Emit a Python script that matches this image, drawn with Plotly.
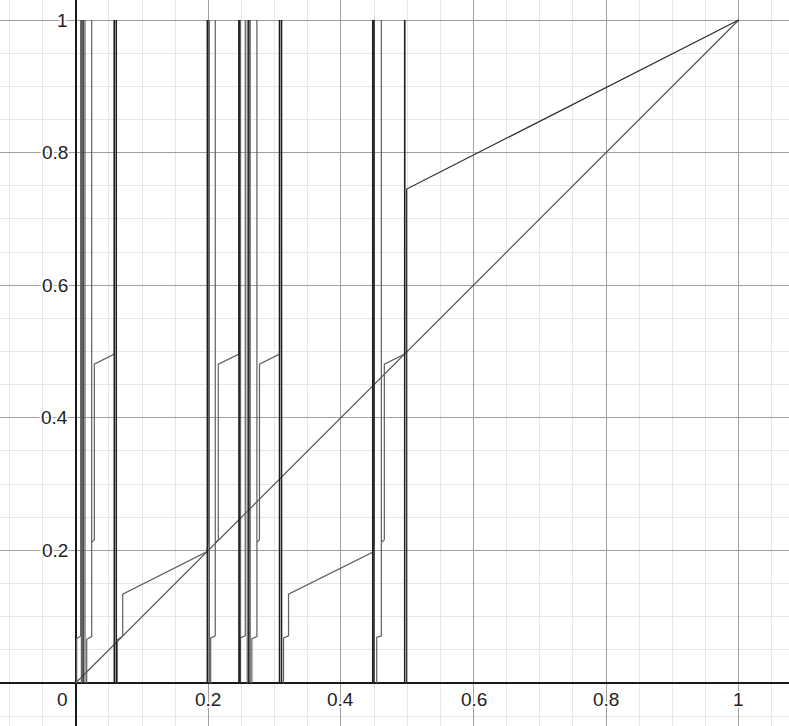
import plotly.graph_objects as go

# ---- data ----
# full-height (0 -> 1) steep lines, dark
dark_full_x = [0.0111, 0.0582, 0.0612, 0.1985, 0.2462, 0.2477, 0.2611, 0.3074, 0.3105, 0.448, 0.4499, 0.4962]
# full-height steep lines, grey
gray_full_x = [0.0086, 0.014, 0.2587, 0.2632, 0.2016]

# grey polylines (each a list of x and a list of y)
gray_lines_x = [
    [0.0015, 0.0015, 0.0075, 0.0075],
    [0.0166, 0.0166, 0.0241, 0.0241],
    [0.0241, 0.0281, 0.0281, 0.0582, 0.0582],
    [0.0627, 0.0627, 0.0709, 0.0709, 0.1976, 0.2, 0.2],
    [0.2036, 0.2036, 0.2105, 0.2105],
    [0.2105, 0.2151, 0.2151, 0.2462, 0.2462],
    [0.2479, 0.2479, 0.2557, 0.2557],
    [0.2657, 0.2657, 0.2733, 0.2733],
    [0.2733, 0.2772, 0.2772, 0.3074, 0.3074],
    [0.3135, 0.3135, 0.321, 0.321, 0.4476, 0.4499, 0.4499],
    [0.454, 0.454, 0.461, 0.461],
    [0.461, 0.4655, 0.4655, 0.4962, 0.4962],
]
gray_lines_y = [
    [0, 0.067, 0.071, 1],
    [0, 0.066, 0.070, 1],
    [0.212, 0.216, 0.481, 0.496, 1],
    [0, 0.065, 0.071, 0.134, 0.198, 0.213, 1],
    [0, 0.068, 0.071, 1],
    [0.212, 0.216, 0.481, 0.496, 1],
    [0, 0.068, 0.071, 1],
    [0, 0.067, 0.070, 1],
    [0.212, 0.216, 0.481, 0.496, 1],
    [0, 0.068, 0.071, 0.134, 0.197, 0.213, 1],
    [0, 0.069, 0.071, 1],
    [0.212, 0.216, 0.481, 0.496, 1],
]

# upper branch
top_x = [0.4992, 0.4992, 1.0]
top_y = [0.0, 0.745, 1.0]

# identity line
diag_x = [0.0, 1.0]
diag_y = [0.0, 1.0]

tick_vals = [0.2, 0.4, 0.6, 0.8, 1.0]
tick_text = ["0.2", "0.4", "0.6", "0.8", "1"]


def join(xs_list, ys_list):
    X, Y = [], []
    for xs, ys in zip(xs_list, ys_list):
        X += list(xs) + [None]
        Y += list(ys) + [None]
    return X, Y


fig = go.Figure()

dx, dy = join([[v, v] for v in dark_full_x], [[0, 1] for _ in dark_full_x])
gx1, gy1 = join([[v, v] for v in gray_full_x], [[0, 1] for _ in gray_full_x])
gx2, gy2 = join(gray_lines_x, gray_lines_y)

fig.add_trace(go.Scatter(x=diag_x, y=diag_y, mode="lines",
                         line=dict(color="#555555", width=1.2), hoverinfo="skip"))
fig.add_trace(go.Scatter(x=gx1 + gx2, y=gy1 + gy2, mode="lines",
                         line=dict(color="#606060", width=1.2), hoverinfo="skip"))
fig.add_trace(go.Scatter(x=dx, y=dy, mode="lines",
                         line=dict(color="#1e1e1e", width=1.5), hoverinfo="skip"))
fig.add_trace(go.Scatter(x=top_x, y=top_y, mode="lines",
                         line=dict(color="#2a2a2a", width=1.2), hoverinfo="skip"))

px_per_unit = 663.0
x0_px, y0_px = 75.7, 683.0
W, H = 789, 726
xr = [-x0_px / px_per_unit, (W - x0_px) / px_per_unit]
yr = [-(H - y0_px) / px_per_unit, y0_px / px_per_unit]

axis_common = dict(
    showgrid=True, gridcolor="#a0a0a0", gridwidth=1, dtick=0.2, tick0=0,
    minor=dict(dtick=0.05, showgrid=True, gridcolor="#e6e6e6", gridwidth=1),
    zeroline=True, zerolinecolor="#1a1a1a", zerolinewidth=2,
    showticklabels=False, ticks="", showline=False, fixedrange=True,
)

fig.update_layout(
    width=W, height=H, margin=dict(l=0, r=0, t=0, b=0),
    paper_bgcolor="white", plot_bgcolor="white", showlegend=False,
    xaxis=dict(range=xr, **axis_common),
    yaxis=dict(range=yr, **axis_common),
)

halo = "2px 0px 1px white, -2px 0px 1px white, 0px 2px 1px white, 0px -2px 1px white"
lab_font = dict(family="Liberation Sans, Arial, sans-serif", size=19, color="#222222", shadow=halo)

# x-axis labels
fig.add_annotation(x=-0.009, y=-0.0256, text="0", showarrow=False,
                   xanchor="right", yanchor="middle", font=lab_font)
for v, t in zip(tick_vals, tick_text):
    fig.add_annotation(x=v, y=-0.0256, text=t, showarrow=False,
                       xanchor="center", yanchor="middle", font=lab_font)
# y-axis labels
for v, t in zip(tick_vals, tick_text):
    fig.add_annotation(x=-0.009, y=v, text=t, showarrow=False,
                       xanchor="right", yanchor="middle", font=lab_font)

fig.write_html("out.html", config={"displayModeBar": False},
               post_script="document.body.style.margin='0px';document.body.style.overflow='hidden';")
